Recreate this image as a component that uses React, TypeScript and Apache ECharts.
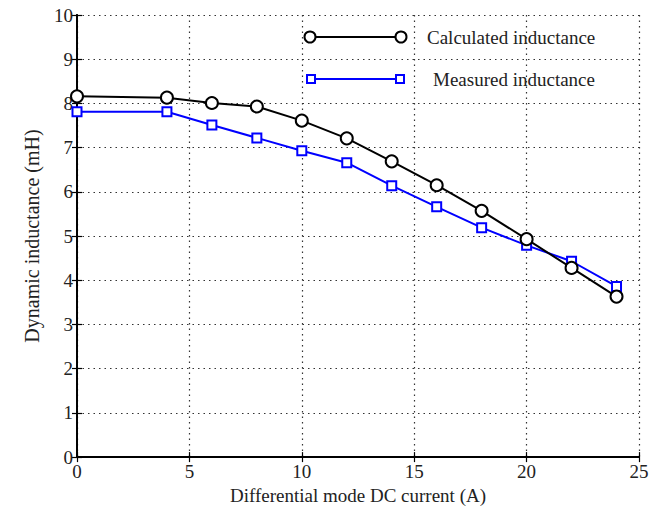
import React, { useEffect, useRef } from "react";
import * as echarts from "echarts";

const currents = [0, 4, 6, 8, 10, 12, 14, 16, 18, 20, 22, 24];
const calculated = [8.16, 8.13, 8.01, 7.93, 7.61, 7.21, 6.69, 6.15, 5.57, 4.93, 4.28, 3.63];
const measured = [7.81, 7.81, 7.51, 7.22, 6.93, 6.66, 6.14, 5.66, 5.19, 4.79, 4.43, 3.86];
const seriesNames = ["Calculated inductance", "Measured inductance"];
const xTitle = "Differential mode DC current (A)";
const yTitle = "Dynamic inductance (mH)";

const FONT = "Liberation Serif";

export default function App() {
  const ref = useRef<HTMLDivElement>(null);
  useEffect(() => {
    if (!ref.current) return;
    const chart = echarts.init(ref.current, null, { renderer: "svg" });
    const axisCommon = {
      axisLine: { show: true, lineStyle: { color: "#000", width: 1.8 } },
      axisTick: { show: true, inside: true, length: 5, lineStyle: { color: "#000", width: 1.2 } },
    };
    chart.setOption({
      animation: false,
      backgroundColor: "#fff",
      grid: { left: 77, right: 15, top: 15, bottom: 51, containLabel: false },
      xAxis: [
        {
          type: "value",
          min: 0,
          max: 25,
          interval: 5,
          ...axisCommon,
          axisLabel: { color: "#222", fontFamily: FONT, fontSize: 19, margin: 5 },
          splitLine: { show: true, lineStyle: { color: "#333", type: [1.5, 4], width: 1.2 } },
          name: xTitle,
          nameLocation: "middle",
          nameGap: 27,
          nameTextStyle: { color: "#222", fontFamily: FONT, fontSize: 19 },
        },
        {
          type: "value",
          position: "top",
          min: 0,
          max: 25,
          interval: 5,
          ...axisCommon,
          axisLabel: { show: false },
          splitLine: { show: false },
        },
      ],
      yAxis: [
        {
          type: "value",
          min: 0,
          max: 10,
          interval: 1,
          ...axisCommon,
          axisLabel: { color: "#222", fontFamily: FONT, fontSize: 19, margin: 4 },
          splitLine: { show: true, lineStyle: { color: "#333", type: [1.5, 4], width: 1.2 } },
          name: yTitle,
          nameLocation: "middle",
          nameGap: 35,
          nameTextStyle: { color: "#222", fontFamily: FONT, fontSize: 20 },
        },
        {
          type: "value",
          position: "right",
          min: 0,
          max: 10,
          interval: 1,
          ...axisCommon,
          axisLabel: { show: false },
          splitLine: { show: false },
        },
      ],
      series: [
        {
          name: seriesNames[0],
          type: "line",
          data: currents.map((x, i) => [x, calculated[i]]),
          symbol: "circle",
          symbolSize: 12,
          showAllSymbol: true,
          lineStyle: { color: "#000", width: 2 },
          itemStyle: { color: "#fff", borderColor: "#000", borderWidth: 2 },
          z: 3,
        },
        {
          name: seriesNames[1],
          type: "line",
          data: currents.map((x, i) => [x, measured[i]]),
          symbol: "rect",
          symbolSize: 9,
          showAllSymbol: true,
          lineStyle: { color: "#0000ff", width: 2 },
          itemStyle: { color: "#fff", borderColor: "#0000ff", borderWidth: 2 },
          z: 2,
        },
      ],
      graphic: [
        { type: "line", shape: { x1: 310, y1: 37, x2: 401, y2: 37 }, style: { stroke: "#000", lineWidth: 2 } },
        { type: "circle", shape: { cx: 310, cy: 37, r: 5.5 }, style: { fill: "#fff", stroke: "#000", lineWidth: 2 } },
        { type: "circle", shape: { cx: 401, cy: 37, r: 5.5 }, style: { fill: "#fff", stroke: "#000", lineWidth: 2 } },
        { type: "text", x: 427, y: 37, style: { text: seriesNames[0], fill: "#222", font: `19px "${FONT}"`, verticalAlign: "middle" } },
        { type: "line", shape: { x1: 311, y1: 79, x2: 400, y2: 79 }, style: { stroke: "#0000ff", lineWidth: 2 } },
        { type: "rect", shape: { x: 307, y: 75, width: 8, height: 8 }, style: { fill: "#fff", stroke: "#0000ff", lineWidth: 2 } },
        { type: "rect", shape: { x: 396, y: 75, width: 8, height: 8 }, style: { fill: "#fff", stroke: "#0000ff", lineWidth: 2 } },
        { type: "text", x: 433, y: 79, style: { text: seriesNames[1], fill: "#222", font: `19px "${FONT}"`, verticalAlign: "middle" } },
      ],
    });
    return () => chart.dispose();
  }, []);
  return (
    <div
      ref={ref}
      style={{ position: "fixed", left: 0, top: 0, width: 654, height: 510 }}
    />
  );
}
